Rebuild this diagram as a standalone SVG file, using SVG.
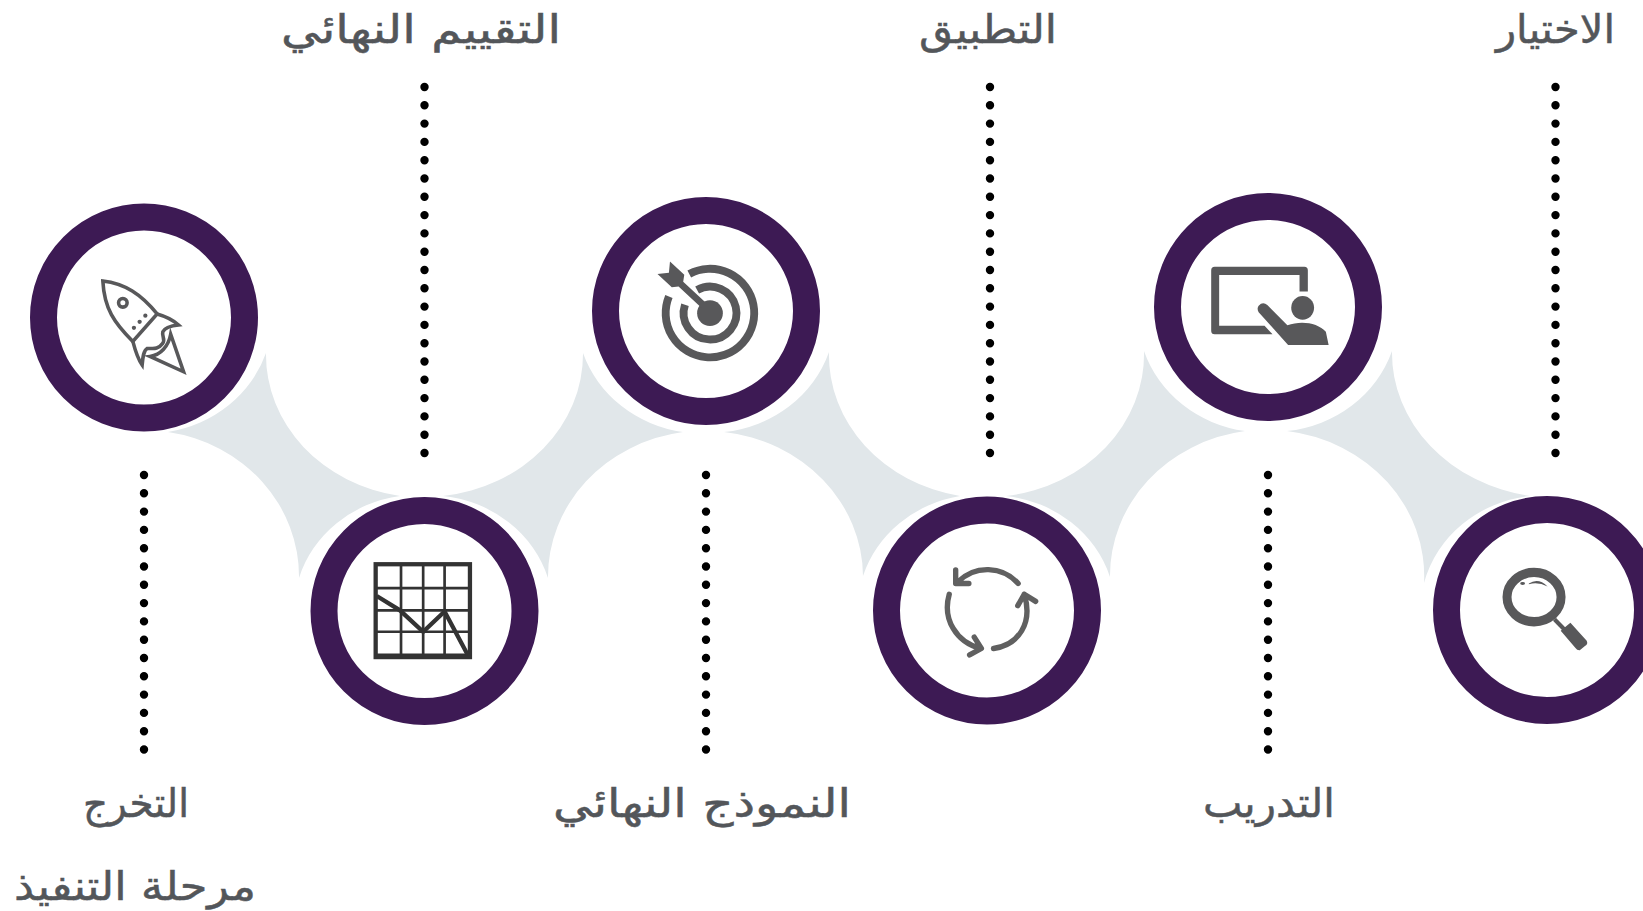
<svg xmlns="http://www.w3.org/2000/svg" width="1643" height="911" viewBox="0 0 1643 911">
<style>
.band{fill:#e1e7ea}
.ring{fill:#fff;stroke:#3d1a54;stroke-width:27}
.dots{fill:none;stroke:#000;stroke-width:8.4;stroke-linecap:round;stroke-dasharray:0 18.3}
.lbl{font-family:"DejaVu Sans","Noto Sans",sans-serif;font-size:40px;fill:#53565a;stroke:#53565a;stroke-width:.5;text-anchor:middle;direction:rtl}
.ol{fill:none;stroke:#58585a;stroke-width:10;stroke-linejoin:miter}
.sol{fill:#58585a}
.cy{fill:none;stroke:#606060;stroke-width:15;stroke-linecap:round;stroke-linejoin:round}
</style>
<g id="band">
<path class="band" d="M168,432A125,118 0 0 0 266,353A159,143 0 0 0 400,496A124,116 0 0 0 299,578A155,146 0 0 0 168,432Z"/>
<path class="band" d="M443,496A159,143 0 0 0 583,353A125,118 0 0 0 683,432A158,146 0 0 0 548,578A124,116 0 0 0 443,496Z"/>
<path class="band" d="M724,432A125,118 0 0 0 829,352A159,143 0 0 0 960,496A124,116 0 0 0 863,576A158,146 0 0 0 724,432Z"/>
<path class="band" d="M1006,496A159,143 0 0 0 1144,351A125,118 0 0 0 1245,431A158,146 0 0 0 1110,577A124,116 0 0 0 1006,496Z"/>
<path class="band" d="M1287,431A125,118 0 0 0 1392,351A165,145 0 0 0 1530,496A124,116 0 0 0 1424,583A158,146 0 0 0 1287,431Z"/>
</g>
<g id="connectors">
<line class="dots" x1="424.5" y1="87" x2="424.5" y2="453.5"/>
<line class="dots" x1="990" y1="87" x2="990" y2="453.5"/>
<line class="dots" x1="1555.5" y1="87" x2="1555.5" y2="453.5"/>
<line class="dots" x1="144" y1="475" x2="144" y2="750"/>
<line class="dots" x1="706" y1="475" x2="706" y2="750"/>
<line class="dots" x1="1268" y1="475" x2="1268" y2="750"/>
</g>
<g id="node-launch">
<circle class="ring" cx="144" cy="317.5" r="100.5"/>
<g transform="translate(0,180) scale(.3571)">
<path class="ol" d="M288,283C350,290 395,320 440,375L372,452C320,400 292,360 288,283Z"/>
<circle class="ol" cx="344" cy="344" r="12"/>
<circle class="sol" cx="407" cy="380" r="6"/><circle class="sol" cx="391" cy="397" r="6"/><circle class="sol" cx="375" cy="414" r="6"/>
<path class="ol" d="M440,375C465,382 485,392 500,406C480,408 462,412 456,425C452,440 465,445 455,458C440,478 425,470 412,472C402,478 400,495 398,518C385,500 378,475 372,452"/>
<path class="ol" d="M478,432L514,537L420,494C450,490 472,465 478,432Z"/>
</g>
<text class="lbl" x="136" y="817" textLength="106" lengthAdjust="spacingAndGlyphs">التخرج</text>
<text class="lbl" x="135" y="900" textLength="242" lengthAdjust="spacingAndGlyphs">مرحلة التنفيذ</text>
</g>
<g id="node-chart">
<circle class="ring" cx="424.5" cy="611" r="100.5"/>
<g transform="translate(0,180) scale(.3571)" fill="none" stroke="#333">
<path stroke-width="7.5" d="M1123,1076V1336M1185,1076V1336M1245,1076V1336M1052,1143H1316M1052,1205H1316M1052,1265H1316M1052,1330H1316"/>
<rect x="1052" y="1076" width="264" height="260" stroke-width="12"/>
<path stroke-width="12" d="M1055,1165L1120,1205L1185,1265L1245,1208L1310,1330"/>
</g>
<text class="lbl" x="421" y="43" textLength="280" lengthAdjust="spacingAndGlyphs">التقييم النهائي</text>
</g>
<g id="node-target">
<circle class="ring" cx="706" cy="311" r="100.5"/>
<g transform="translate(560,180) scale(.3571)">
<circle class="sol" cx="420" cy="373" r="36"/>
<path fill="none" stroke="#58585a" stroke-width="22" d="M362,263A124,124 0 1 1 305,326M384,308A74,74 0 1 1 350,349"/>
<path class="sol" d="M308,228L348,265L345,285L410,345L396,358L332,298L313,300L273,263L305,260Z"/>
</g>
<text class="lbl" x="702" y="817" textLength="298" lengthAdjust="spacingAndGlyphs">النموذج النهائي</text>
</g>
<g id="node-cycle">
<circle class="ring" cx="987" cy="610.5" r="100.5"/>
<g transform="translate(560,180) scale(.3571)">
<path class="cy" d="M1283,1130A115,115 0 0 0 1115,1125M1108,1092V1130H1145M1090,1160C1070,1230 1110,1295 1178,1312M1160,1280L1180,1312L1147,1330M1214,1312C1285,1302 1325,1240 1300,1160M1282,1192L1300,1160L1332,1180"/>
</g>
<text class="lbl" x="988" y="43" textLength="138" lengthAdjust="spacingAndGlyphs">التطبيق</text>
</g>
<g id="node-train">
<circle class="ring" cx="1268" cy="307" r="100.5"/>
<g transform="translate(1100,180) scale(.3464,.3571)">
<path class="sol" d="M331,243H590Q600,243 600,253V312H576V266H344V408H475L498,432H331Q321,432 321,422V253Q321,243 331,243Z"/>
<ellipse class="sol" cx="585" cy="358" rx="33" ry="33"/>
<path class="sol" d="M458,352Q470,340 483,350L541,407C580,392 630,400 652,425L660,462H543L458,370Q452,360 458,352Z"/>
</g>
<text class="lbl" x="1269" y="817" textLength="132" lengthAdjust="spacingAndGlyphs">التدريب</text>
</g>
<g id="node-search">
<circle class="ring" cx="1547" cy="610" r="100.5"/>
<g transform="translate(1100,180) scale(.3464,.3571)">
<ellipse cx="1253" cy="1168" rx="78" ry="69" fill="none" stroke="#58585a" stroke-width="26"/>
<path fill="none" stroke="#58585a" stroke-width="12" d="M1312,1230L1340,1258"/>
<path class="sol" d="M1330,1262L1358,1240L1405,1290Q1410,1300 1400,1305L1385,1317Q1378,1318 1372,1310Z"/>
<ellipse class="sol" cx="1220" cy="1130" rx="7" ry="4"/>
<path class="sol" d="M1238,1130Q1265,1112 1292,1138Q1265,1125 1238,1132Z"/>
</g>
<text class="lbl" x="1555.5" y="43" textLength="119" lengthAdjust="spacingAndGlyphs">الاختيار</text>
</g>
</svg>
